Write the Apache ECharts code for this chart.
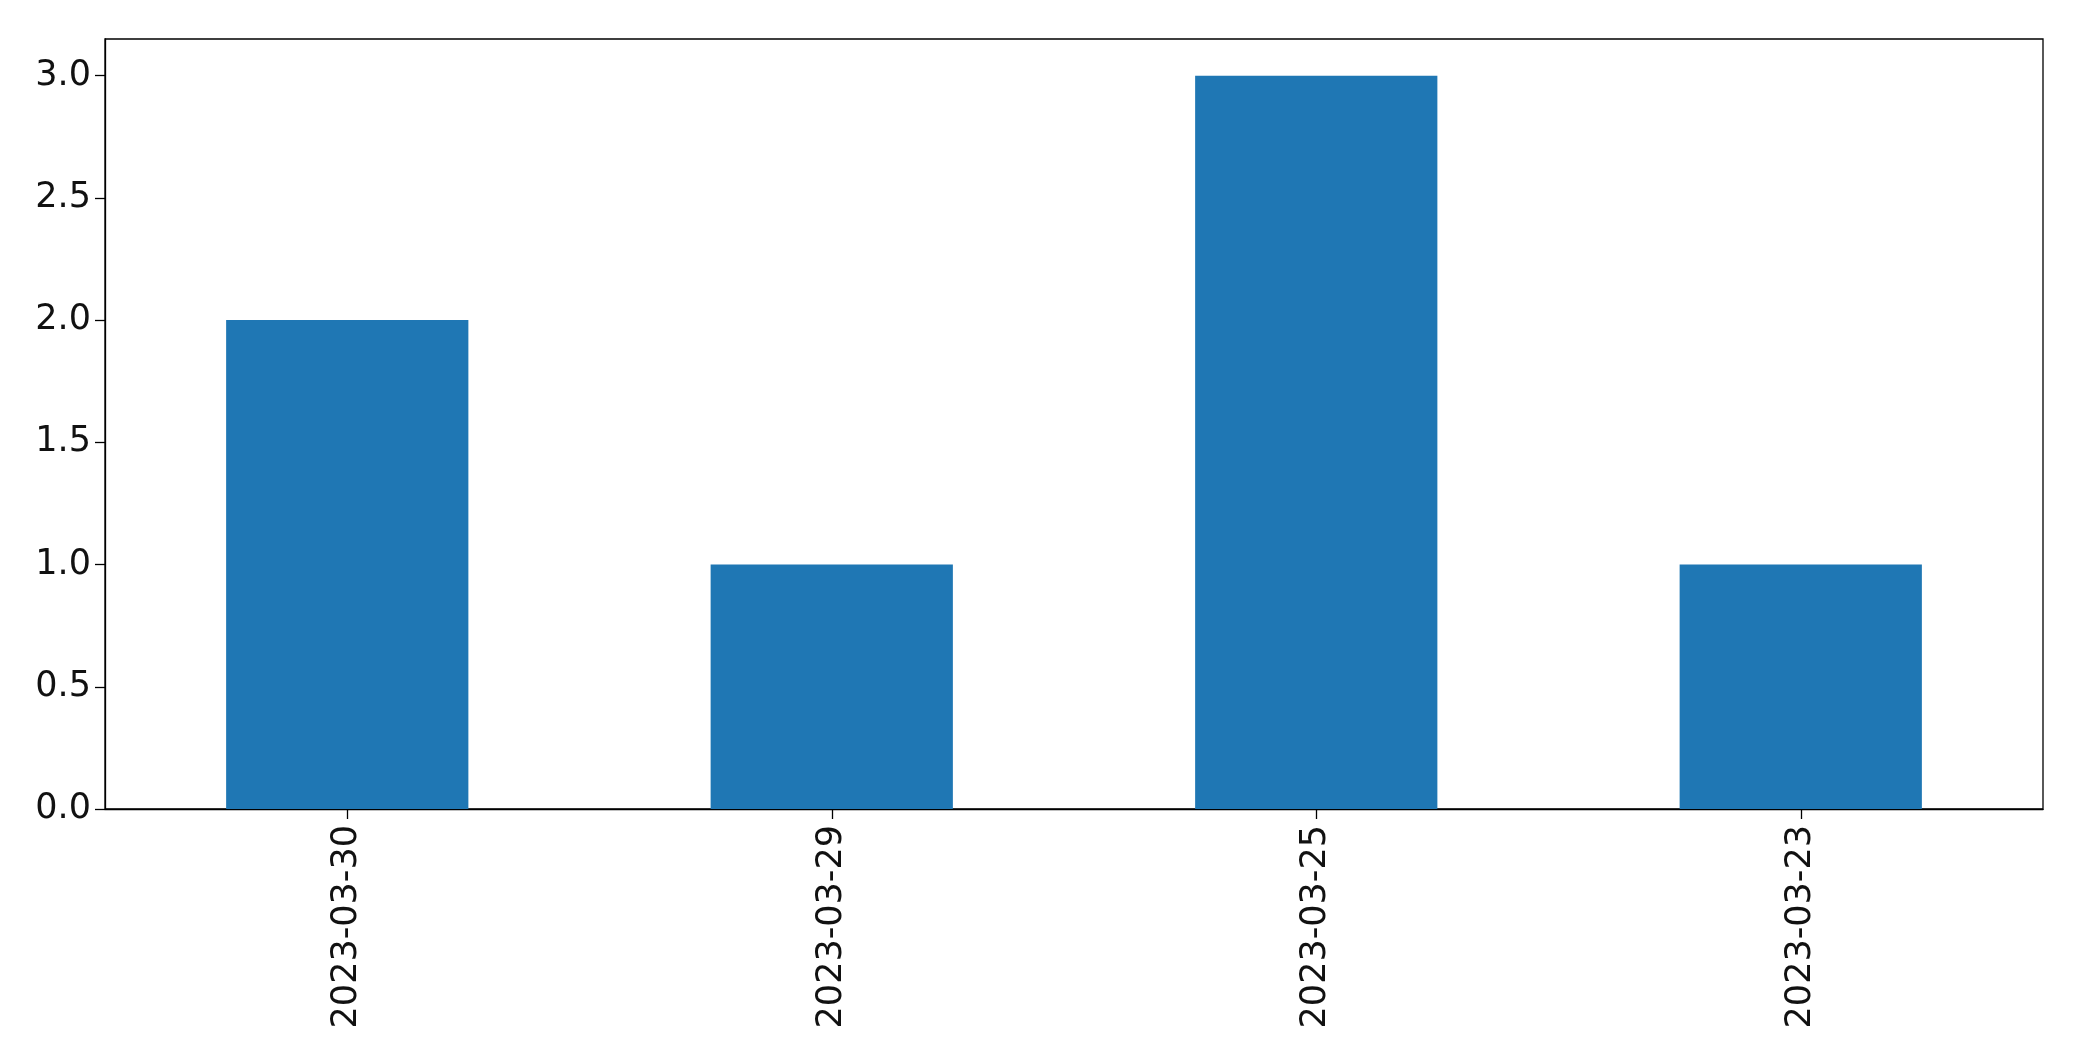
<!DOCTYPE html>
<html>
<head>
<meta charset="utf-8">
<script src="https://cdn.jsdelivr.net/npm/echarts@6/dist/echarts.min.js"></script>
<style>
html,body{margin:0;padding:0;background:#fff;}
#chart{width:2082px;height:1061px;}
</style>
</head>
<body>
<div id="chart"></div>
<script>
const categories = ['2023-03-30', '2023-03-29', '2023-03-25', '2023-03-23'];
const values = [2, 1, 3, 1];
const yTicks = [0, 0.5, 1.0, 1.5, 2.0, 2.5, 3.0];

const chart = echarts.init(document.getElementById('chart'), null, {renderer: 'canvas'});
const font = 'DejaVu Sans';
chart.setOption({
  animation: false,
  backgroundColor: '#ffffff',
  grid: {
    left: 105, right: 39, top: 39, bottom: 252,
    show: true, borderColor: '#000', borderWidth: 1.3, backgroundColor: 'transparent'
  },
  xAxis: {
    type: 'category',
    data: categories,
    boundaryGap: true,
    axisLine: {show: true, lineStyle: {color: '#000', width: 1.3}},
    axisTick: {show: true, alignWithLabel: true, length: 10, lineStyle: {color: '#000', width: 1.3}},
    axisLabel: {rotate: 90, color: '#111', fontFamily: font, fontSize: 35, margin: 16, interval: 0},
    splitLine: {show: false}
  },
  yAxis: {
    type: 'value',
    min: 0,
    max: 3.15,
    interval: 0.5,
    axisLine: {show: true, lineStyle: {color: '#000', width: 1.3}},
    axisTick: {show: true, length: 10, lineStyle: {color: '#000', width: 1.3}, customValues: yTicks},
    axisLabel: {color: '#111', fontFamily: font, fontSize: 35, margin: 14,
      customValues: yTicks,
      formatter: v => v.toFixed(1)},
    splitLine: {show: false}
  },
  series: [{
    type: 'bar',
    data: values,
    barWidth: '50%',
    itemStyle: {color: '#1f77b4'}
  }]
});
</script>
</body>
</html>
